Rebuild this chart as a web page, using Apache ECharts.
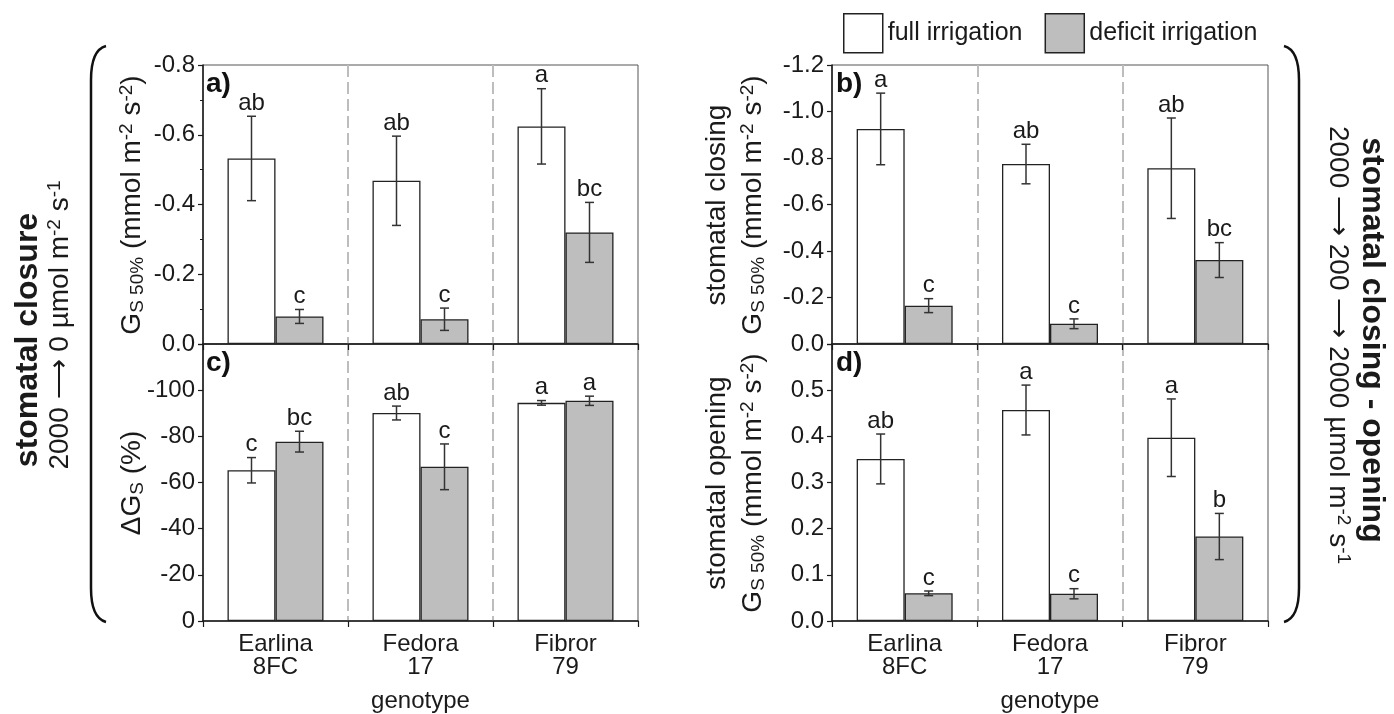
<!DOCTYPE html>
<html><head><meta charset="utf-8">
<script src="https://cdn.jsdelivr.net/npm/echarts@6/dist/echarts.min.js"></script>
<style>html,body{margin:0;padding:0;background:#fff}#c{width:1394px;height:714px}</style>
</head><body><div id="c"></div>
<script>
// ---------- data ----------
const categories = ['Earlina\n8FC', 'Fedora\n17', 'Fibror\n79'];
const seriesNames = ['full irrigation', 'deficit irrigation'];

// panel a) Gs50% stomatal closure
const aFull = [-0.532, -0.468, -0.624];
const aFullErr = [0.121, 0.128, 0.108];
const aDef = [-0.079, -0.071, -0.320];
const aDefErr = [0.020, 0.032, 0.086];
const aFullLetters = ['ab', 'ab', 'a'];
const aDefLetters = ['c', 'c', 'bc'];

// panel b) Gs50% stomatal closing
const bFull = [-0.925, -0.774, -0.756];
const bFullErr = [0.154, 0.085, 0.216];
const bDef = [-0.165, -0.087, -0.361];
const bDefErr = [0.030, 0.021, 0.075];
const bFullLetters = ['a', 'ab', 'ab'];
const bDefLetters = ['c', 'c', 'bc'];

// panel c) delta Gs (%)
const cFull = [-65.3, -90.1, -94.5];
const cFullErr = [5.5, 3.0, 1.0];
const cDef = [-77.7, -66.8, -95.4];
const cDefErr = [4.5, 9.9, 2.0];
const cFullLetters = ['c', 'ab', 'a'];
const cDefLetters = ['bc', 'c', 'a'];

// panel d) Gs50% stomatal opening
const dFull = [0.351, 0.457, 0.397];
const dFullErr = [0.054, 0.054, 0.084];
const dDef = [0.060, 0.059, 0.183];
const dDefErr = [0.005, 0.011, 0.050];
const dFullLetters = ['ab', 'a', 'a'];
const dDefLetters = ['c', 'c', 'b'];

// axis ticks: [min, max, interval, decimals, hidden label]
const aTicks = [-0.8, 0, 0.2, 1, null];
const bTicks = [-1.2, 0, 0.2, 1, null];
const cTicks = [-120, 0, 20, 0, -120];
const dTicks = [0, 0.6, 0.1, 1, 0.6];

// ---------- chart ----------
const FONT = '"Liberation Sans", Arial, Helvetica, sans-serif';
const INK = '#1a1a1a';
const BARW = 48;
const chart = echarts.init(document.getElementById('c'), null, {renderer: 'canvas'});

const grids = [
  {left: 203, top: 65, width: 435, height: 279},   // a
  {left: 832, top: 65, width: 436, height: 279},   // b
  {left: 203, top: 344, width: 435, height: 278},  // c
  {left: 832, top: 344, width: 436, height: 278}   // d
].map(g => Object.assign({show: true, borderColor: '#555', borderWidth: 1, backgroundColor: 'transparent'}, g));

function mkX(gi, bottom) {
  return {
    type: 'category', gridIndex: gi, data: categories,
    axisLine: {show: true, onZero: false, lineStyle: {color: INK, width: 1.5}},
    axisTick: {show: true, length: 6, lineStyle: {color: INK, width: 1.2}},
    axisLabel: {show: bottom, fontSize: 24, color: INK, fontFamily: FONT, lineHeight: 23, margin: 12},
    splitLine: {show: true, showMinLine: false, showMaxLine: false, lineStyle: {color: '#bdbdbd', type: [12, 5], width: 2}},
    name: bottom ? 'genotype' : '', nameLocation: 'middle', nameGap: 68,
    nameTextStyle: {fontSize: 24, color: INK, fontFamily: FONT}
  };
}
function mkY(gi, t, minor) {
  const [mn, mx, iv, dec, hide] = t;
  return {
    type: 'value', gridIndex: gi, min: mn, max: mx, interval: iv, inverse: mn < 0,
    axisLine: {show: true, lineStyle: {color: INK, width: 1.5}},
    axisTick: {show: true, length: 5, lineStyle: {color: INK, width: 1.2}},
    minorTick: {show: minor, splitNumber: 2, length: 3, lineStyle: {color: INK, width: 1}},
    splitLine: {show: false},
    axisLabel: {fontSize: 24, color: INK, fontFamily: FONT, margin: 8,
      formatter: v => (hide !== null && Math.abs(v - hide) < 1e-9) ? '' : (Math.abs(v) < 1e-9 ? 0 : v).toFixed(dec)}
  };
}

function barSeries(gi, name, vals, color) {
  return {
    type: 'bar', name, xAxisIndex: gi, yAxisIndex: gi, data: vals,
    barWidth: BARW, barGap: '0%', z: 3,
    itemStyle: {color, borderColor: '#222', borderWidth: 1.3},
    emphasis: {disabled: true}
  };
}
function errSeries(gi, vals, errs, letters, offset) {
  return {
    type: 'custom', xAxisIndex: gi, yAxisIndex: gi, z: 6, clip: false,
    data: vals.map((v, i) => [i, v, errs[i]]),
    renderItem: (params, api) => {
      const i = api.value(0), v = api.value(1), e = api.value(2);
      const p1 = api.coord([i, v - e]);
      const p2 = api.coord([i, v + e]);
      const x = p1[0] + offset;
      const yT = Math.min(p1[1], p2[1]), yB = Math.max(p1[1], p2[1]);
      const cap = 4.5;
      const st = {stroke: '#333', lineWidth: 1.5};
      return {type: 'group', children: [
        {type: 'line', shape: {x1: x, y1: yT, x2: x, y2: yB}, style: st},
        {type: 'line', shape: {x1: x - cap, y1: yT, x2: x + cap, y2: yT}, style: st},
        {type: 'line', shape: {x1: x - cap, y1: yB, x2: x + cap, y2: yB}, style: st},
        {type: 'text', x: x, y: yT - 1, style: {text: letters[params.dataIndex], align: 'center', verticalAlign: 'bottom',
          font: '24px ' + FONT, fill: INK}}
      ]};
    }
  };
}

const panels = [
  [aFull, aFullErr, aFullLetters, aDef, aDefErr, aDefLetters],
  [bFull, bFullErr, bFullLetters, bDef, bDefErr, bDefLetters],
  [cFull, cFullErr, cFullLetters, cDef, cDefErr, cDefLetters],
  [dFull, dFullErr, dFullLetters, dDef, dDefErr, dDefLetters]
];
const series = [];
panels.forEach((p, gi) => {
  series.push(barSeries(gi, seriesNames[0], p[0], '#ffffff'));
  series.push(barSeries(gi, seriesNames[1], p[3], '#bebebe'));
  series.push(errSeries(gi, p[0], p[1], p[2], -BARW / 2));
  series.push(errSeries(gi, p[3], p[4], p[5], BARW / 2));
});

// rich text styles for titles
const T = 28, S = 19;
const rich = {
  n: {fontSize: T, fontFamily: FONT, color: INK, lineHeight: 34, verticalAlign: 'middle'},
  sub: {fontSize: S, fontFamily: FONT, color: INK, lineHeight: 34, verticalAlign: 'bottom', padding: [0, 0, 2, 0]},
  sup: {fontSize: S, fontFamily: FONT, color: INK, lineHeight: 34, verticalAlign: 'top', padding: [2, 0, 0, 0]},
  b: {fontSize: 32, fontFamily: FONT, fontWeight: 'bold', color: INK, lineHeight: 36, verticalAlign: 'middle'}
};
const gsTitle = '{n|G}{sub|S 50%}{n| (mmol m}{sup|-2}{n| s}{sup|-2}{n|)}';

function vtext(x, y, text, rot) {
  return {type: 'text', x, y, rotation: rot, z: 10,
    style: {text, rich, align: 'center', verticalAlign: 'middle', font: T + 'px ' + FONT, fill: INK}};
}
function lbl(x, y, t) {
  return {type: 'text', x: x, y: y, z: 10, style: {text: t, font: 'bold 28px ' + FONT, fill: '#111', align: 'left', verticalAlign: 'top'}};
}
function bracket(xEdge, xMid) {
  const st = {stroke: '#111', lineWidth: 2.5, fill: null};
  return [
    {type: 'bezierCurve', z: 10, shape: {x1: xEdge, y1: 46, cpx1: xMid, cpy1: 50, x2: xMid, y2: 80}, style: st},
    {type: 'line', z: 10, shape: {x1: xMid, y1: 80, x2: xMid, y2: 588}, style: st},
    {type: 'bezierCurve', z: 10, shape: {x1: xMid, y1: 588, cpx1: xMid, cpy1: 618, x2: xEdge, y2: 622}, style: st}
  ];
}
const R = Math.PI / 2;
const graphic = [
  lbl(206, 70, 'a)'), lbl(836, 70, 'b)'), lbl(206, 349, 'c)'), lbl(836, 349, 'd)'),
  vtext(132, 205, gsTitle, R),
  vtext(132, 483, '{n|ΔG}{sub|S}{n| (%)}', R),
  vtext(717, 205, '{n|stomatal closing}', R),
  vtext(753, 205, gsTitle, R),
  vtext(717, 483, '{n|stomatal opening}', R),
  vtext(753, 483, gsTitle, R),
  vtext(28, 340, '{b|stomatal closure}', R),
  vtext(60, 325, '{n|2000 ⟶ 0 µmol m}{sup|-2}{n| s}{sup|-1}', R),
  vtext(1372, 340, '{b|stomatal closing - opening}', -R),
  vtext(1338, 345, '{n|2000 ⟶ 200 ⟶ 2000 µmol m}{sup|-2}{n| s}{sup|-1}', -R)
].concat(bracket(106, 91), bracket(1284, 1299));

chart.setOption({
  animation: false,
  backgroundColor: '#ffffff',
  textStyle: {fontFamily: FONT},
  legend: {
    data: seriesNames, left: 843, top: 13, padding: 0, itemWidth: 39, itemHeight: 39, itemGap: 22,
    icon: 'rect', textStyle: {fontSize: 25, color: INK, fontFamily: FONT},
    itemStyle: {borderColor: '#222', borderWidth: 1.5}, selectedMode: false
  },
  grid: grids,
  xAxis: [mkX(0, false), mkX(1, false), mkX(2, true), mkX(3, true)],
  yAxis: [mkY(0, aTicks, true), mkY(1, bTicks, false), mkY(2, cTicks, false), mkY(3, dTicks, false)],
  series,
  graphic
});
</script></body></html>
